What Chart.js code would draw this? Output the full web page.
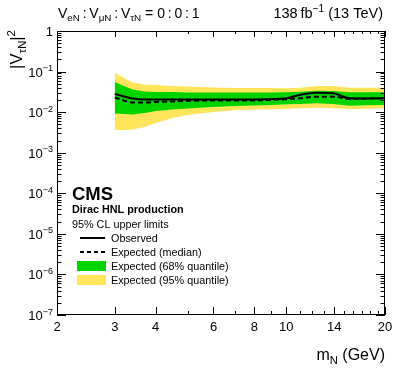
<!DOCTYPE html>
<html lang="en">
<head>
<meta charset="UTF-8">
<title>HNL tau mixing limits</title>
<script src="https://cdn.jsdelivr.net/npm/chart.js"></script>
<style>
  html, body { margin: 0; padding: 0; background: #fff; }
  #wrap { width: 399px; height: 368px; position: relative; }
</style>
</head>
<body>
<div id="wrap"><canvas id="limitChart" width="399" height="368"></canvas></div>
<script>
// HNL mass points (GeV) and the limits on |V_tauN|^2
const masses    = [3, 3.2, 3.4, 3.7, 4, 4.5, 5, 6, 7, 8, 9, 10, 11, 12.4, 13.9, 15.6, 17.5, 20];
const observed  = [0.0281, 0.0244, 0.0217, 0.0206, 0.0206, 0.0206, 0.0206, 0.0206, 0.0206, 0.0206, 0.0211, 0.0220, 0.0265, 0.0302, 0.0292, 0.0220, 0.0218, 0.0220];
const expected  = [0.0230, 0.0194, 0.0173, 0.0173, 0.0178, 0.0184, 0.0189, 0.0194, 0.0194, 0.0194, 0.0200, 0.0208, 0.0220, 0.0241, 0.0241, 0.0211, 0.0215, 0.0220];
const green_hi  = [0.0555, 0.0442, 0.0362, 0.0323, 0.0315, 0.0315, 0.0306, 0.0306, 0.0306, 0.0306, 0.0306, 0.0309, 0.0320, 0.0339, 0.0333, 0.0309, 0.0309, 0.0309];
const green_lo  = [0.00929, 0.00903, 0.00878, 0.00955, 0.0107, 0.0117, 0.0123, 0.0134, 0.0142, 0.0146, 0.0150, 0.0157, 0.0159, 0.0166, 0.0159, 0.0144, 0.0148, 0.0150];
const yellow_hi = [0.0950, 0.0696, 0.0539, 0.0481, 0.0468, 0.0442, 0.0430, 0.0406, 0.0395, 0.0395, 0.0395, 0.0388, 0.0401, 0.0442, 0.0442, 0.0401, 0.0401, 0.0401];
const yellow_lo = [0.00365, 0.00365, 0.00375, 0.00432, 0.00542, 0.00719, 0.00853, 0.0101, 0.0113, 0.0117, 0.0118, 0.0120, 0.0125, 0.0129, 0.0125, 0.0118, 0.0122, 0.0125];

// axis ticks
const xLabelTicks = [2, 3, 4, 6, 8, 10, 14, 20];
const xMinorTicks = [5, 7, 9, 11, 12, 13, 15, 16, 17, 18, 19];
const yExponents  = [0, -1, -2, -3, -4, -5, -6, -7];

const legendRows = ['Observed', 'Expected (median)', 'Expected (68% quantile)', 'Expected (95% quantile)'];

const FONT = "'Liberation Sans', Arial, Helvetica, sans-serif";
const GREEN = '#00d400';
const YELLOW = '#ffe45c';

function pts(arr) {
  return masses.map((m, i) => ({ x: m, y: arr[i] }));
}

// draws text made of normal / sub / sup pieces, returns width
function richText(ctx, parts, x, y, size, align) {
  const pieces = parts.map(p => {
    const small = p[1] !== 'n';
    const fs = small ? size * 0.7 : size;
    ctx.font = fs + 'px ' + FONT;
    return { t: p[0], kind: p[1], fs: fs, w: ctx.measureText(p[0]).width };
  });
  const total = pieces.reduce((s, p) => s + p.w, 0);
  let cx = align === 'right' ? x - total : (align === 'center' ? x - total / 2 : x);
  ctx.textAlign = 'left';
  ctx.textBaseline = 'alphabetic';
  pieces.forEach(p => {
    ctx.font = p.fs + 'px ' + FONT;
    let dy = 0;
    if (p.kind === 'sub') dy = size * 0.22;
    if (p.kind === 'sup') dy = -size * 0.42;
    ctx.fillText(p.t, cx, y + dy);
    cx += p.w;
  });
  return total;
}

const frameAndText = {
  id: 'frameAndText',
  afterDraw(chart) {
    const ctx = chart.ctx;
    const xs = chart.scales.x, ys = chart.scales.y;
    const a = chart.chartArea;
    ctx.save();
    ctx.fillStyle = '#000';
    ctx.strokeStyle = '#000';
    ctx.lineWidth = 1;

    // frame
    ctx.strokeRect(a.left + 0.5, a.top + 0.5, a.right - a.left - 1, a.bottom - a.top - 1);

    // x ticks (bottom and top, inward)
    ctx.beginPath();
    xLabelTicks.concat(xMinorTicks).forEach(v => {
      const px = Math.round(xs.getPixelForValue(v)) + 0.5;
      const major = xLabelTicks.includes(v);
      const len = major ? 8 : 4;
      ctx.moveTo(px, a.bottom); ctx.lineTo(px, a.bottom - len);
      ctx.moveTo(px, a.top); ctx.lineTo(px, a.top + (major ? 6 : 3));
    });
    // y ticks (left and right, inward)
    yExponents.forEach(e => {
      for (let k = 1; k <= 9; k++) {
        const v = k * Math.pow(10, e);
        if (v > 1.0001 || v < 1e-7 * 0.999) continue;
        const py = Math.round(ys.getPixelForValue(v)) + 0.5;
        const len = k === 1 ? 9 : 4.5;
        ctx.moveTo(a.left, py); ctx.lineTo(a.left + len, py);
        ctx.moveTo(a.right, py); ctx.lineTo(a.right - len, py);
      }
    });
    ctx.stroke();

    // x tick labels
    ctx.font = '13px ' + FONT;
    ctx.textAlign = 'center';
    ctx.textBaseline = 'alphabetic';
    xLabelTicks.forEach(v => {
      ctx.fillText(String(v), xs.getPixelForValue(v), a.bottom + 16);
    });

    // y tick labels
    yExponents.forEach(e => {
      const py = ys.getPixelForValue(Math.pow(10, e)) + 5;
      if (e === 0) {
        richText(ctx, [['1', 'n']], a.left - 4, py, 13, 'right');
      } else {
        richText(ctx, [['10', 'n'], ['\u2212' + (-e), 'sup']], a.left - 4, py, 13, 'right');
      }
    });

    // axis titles
    richText(ctx, [['m', 'n'], ['N', 'sub'], [' (GeV)', 'n']], a.right, 360, 16, 'right');
    ctx.save();
    ctx.translate(22, a.top - 1);
    ctx.rotate(-Math.PI / 2);
    richText(ctx, [['|V', 'n'], ['\u03c4N', 'sub'], ['|', 'n'], ['2', 'sup']], 0, 0, 16.5, 'right');
    ctx.restore();

    // header
    richText(ctx, [['V', 'n'], ['eN', 'sub'], ['\u2009:\u2009V', 'n'], ['\u03bcN', 'sub'], ['\u2009:\u2009V', 'n'], ['\u03c4N', 'sub'], [' = 0\u2009:\u20090\u2009:\u20091', 'n']], a.left + 1, 18, 14, 'left');
    richText(ctx, [['138\u2009fb', 'n'], ['\u22121', 'sup'], [' (13 TeV)', 'n']], a.right - 2, 18, 14.5, 'right');

    // CMS label block
    const lx = 72;
    ctx.textAlign = 'left';
    ctx.font = 'bold 18.5px ' + FONT;
    ctx.fillText('CMS', lx, 200);
    ctx.font = 'bold 10.8px ' + FONT;
    ctx.fillText('Dirac HNL production', lx, 213);
    ctx.font = '10.8px ' + FONT;
    ctx.fillText('95% CL upper limits', lx, 228);

    // legend
    const rowY = [238, 252, 266, 280];
    const symL = 77, symR = 106, textX = 111;
    ctx.lineWidth = 2;
    ctx.beginPath(); ctx.moveTo(symL + 3, rowY[0]); ctx.lineTo(symR - 1, rowY[0]); ctx.stroke();
    ctx.setLineDash([4, 3]);
    ctx.beginPath(); ctx.moveTo(symL + 3, rowY[1]); ctx.lineTo(symR - 1, rowY[1]); ctx.stroke();
    ctx.setLineDash([]);
    ctx.fillStyle = GREEN;
    ctx.fillRect(symL, rowY[2] - 5, symR - symL, 10);
    ctx.fillStyle = YELLOW;
    ctx.fillRect(symL, rowY[3] - 5, symR - symL, 10);
    ctx.fillStyle = '#000';
    ctx.font = '10.8px ' + FONT;
    legendRows.forEach((t, i) => ctx.fillText(t, textX, rowY[i] + 4));

    ctx.restore();
  }
};

const lineBase = { pointRadius: 0, borderWidth: 0, tension: 0 };

new Chart(document.getElementById('limitChart'), {
  type: 'line',
  data: {
    datasets: [
      { label: 'Observed', data: pts(observed), borderColor: '#000', borderWidth: 2, pointRadius: 0, fill: false, cubicInterpolationMode: 'monotone' },
      { label: 'Expected (median)', data: pts(expected), borderColor: '#000', borderWidth: 2, borderDash: [5, 3], pointRadius: 0, fill: false, cubicInterpolationMode: 'monotone' },
      { label: 'Expected (68% quantile)', data: pts(green_hi), ...lineBase, borderColor: GREEN, backgroundColor: GREEN, fill: '+1' },
      { label: '68% low', data: pts(green_lo), ...lineBase, borderColor: GREEN, fill: false },
      { label: 'Expected (95% quantile)', data: pts(yellow_hi), ...lineBase, borderColor: YELLOW, backgroundColor: YELLOW, fill: '+1' },
      { label: '95% low', data: pts(yellow_lo), ...lineBase, borderColor: YELLOW, fill: false }
    ]
  },
  options: {
    responsive: false,
    animation: false,
    layout: { padding: { left: 57, right: 14, top: 31, bottom: 53 } },
    plugins: { legend: { display: false }, tooltip: { enabled: false } },
    scales: {
      x: { type: 'logarithmic', min: 2, max: 20, display: false },
      y: { type: 'logarithmic', min: 1e-7, max: 1, display: false }
    }
  },
  plugins: [frameAndText]
});
</script>
</body>
</html>
